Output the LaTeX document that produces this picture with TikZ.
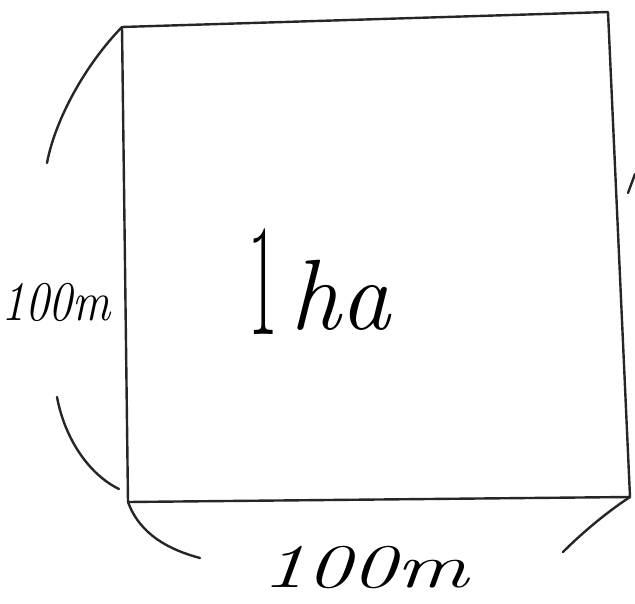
\documentclass[tikz,border=0pt]{standalone}
\begin{document}
\begin{tikzpicture}[x=1pt,y=-1pt,
  pen/.style={line width=2.4pt,line cap=round,line join=round,black!85},
  hand/.style={inner sep=0pt,font=\itshape}]
\useasboundingbox (0,0) rectangle (635,604);
\coordinate (TL) at (122,27);
\coordinate (TR) at (608,12);
\coordinate (BR) at (630,497);
\coordinate (BL) at (128,502);
\draw[pen] (TL) -- (TR) -- (BR) -- (BL) -- cycle;
% left dimension arcs
\coordinate (la) at (47,163);
\coordinate (lb) at (57,397);
\coordinate (lc) at (119,489);
\draw[pen] (TL) .. controls (85,65) and (55,120) .. (la);
\draw[pen] (lb) .. controls (65,440) and (90,475) .. (lc);
% bottom dimension arcs
\coordinate (ba) at (200,558);
\coordinate (bb) at (563,552);
\coordinate (rt) at (628,193);
\coordinate (rt2) at (635,174);
\draw[pen] (BL) .. controls (140,535) and (170,550) .. (ba);
\draw[pen] (BR) .. controls (610,510) and (585,530) .. (bb);
\draw[pen] (rt) -- (rt2);
% labels
\node[hand,font=\itshape\fontsize{56}{60}\selectfont,xscale=0.85] (lbl) at (56,302) {100m};
\node[hand,font=\itshape\fontsize{62}{68}\selectfont,xscale=1.45] (bbl) at (365,568) {100m};
\node[hand,font=\fontsize{160}{170}\selectfont,xscale=0.4] (one) at (263,282) {1};
\node[hand,font=\itshape\fontsize{100}{110}\selectfont] (ha) at (340,295) {ha};
\end{tikzpicture}
\end{document}
